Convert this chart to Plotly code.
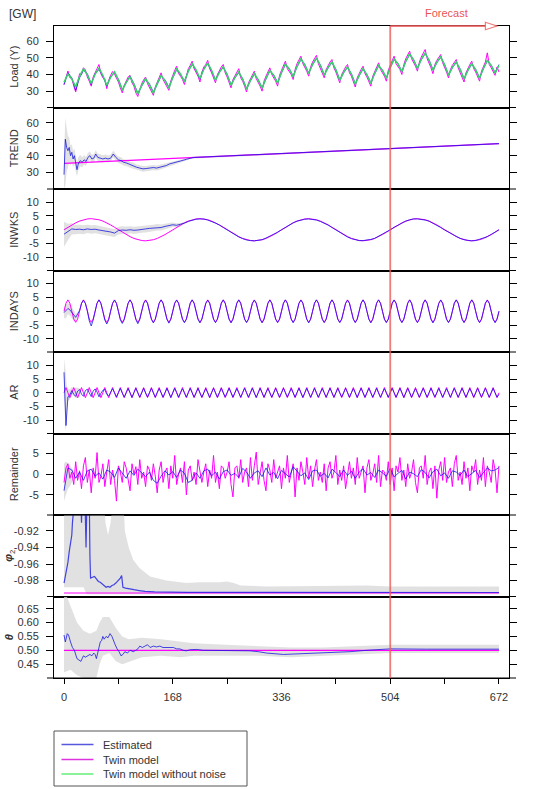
import plotly.graph_objects as go

# ---------------- DATA ----------------
# Panel 1: Load (Y), 6-hourly / 3-hourly samples
load_green = [35.3, 40.3, 37.3, 32.6, 38.9, 43.4, 39.8, 34.6, 40.1, 43.9,
              39.5, 33.5, 38.3, 41.6, 36.8, 30.5, 35.3, 38.6, 34.1, 28.2,
              33.5, 37.6, 33.8, 28.7, 34.7, 39.5, 36.3, 31.8, 38.3, 43.3,
              40.3, 35.6, 41.9, 46.4, 42.8, 37.6, 43.1, 46.9, 42.5, 36.5,
              41.3, 44.6, 39.8, 33.5, 38.3, 41.6, 37.1, 31.2, 36.5, 40.6,
              36.8, 31.7, 37.7, 42.5, 39.4, 34.8, 41.3, 46.3, 43.3, 38.6,
              44.9, 49.4, 45.8, 40.6, 46.1, 49.9, 45.5, 39.5, 44.3, 47.6,
              42.8, 36.5, 41.3, 44.6, 40.1, 34.2, 39.5, 43.6, 39.8, 34.7,
              40.7, 45.5, 42.4, 37.8, 44.3, 49.3, 46.3, 41.6, 47.9, 52.4,
              48.8, 43.6, 49.1, 52.9, 48.5, 42.5, 47.3, 50.6, 45.8, 39.5,
              44.3, 47.6, 43.1, 37.2, 42.5, 46.6, 42.8, 37.7, 43.7, 48.5,
              45.4, 40.8, 45.5]
load_est = [34.0, 41.0, 38.0, 30.5, 38.0, 42.5, 40.5, 34.0, 40.5, 43.0,
            39.0, 33.0, 38.8, 41.0, 37.2, 31.0, 35.0, 39.0, 34.5, 28.8,
            33.0, 37.0, 34.3, 29.5, 34.0, 39.0, 36.8, 32.5, 38.0, 43.0,
            40.0, 36.0, 42.2, 46.0, 42.5, 37.2, 43.5, 46.5, 42.0, 36.8,
            41.5, 44.2, 40.2, 33.8, 38.0, 41.2, 37.5, 31.5, 36.2, 40.2,
            37.0, 32.0, 37.3, 42.2, 39.7, 35.2, 41.0, 46.0, 43.5, 38.9,
            44.6, 49.0, 46.0, 40.9, 45.8, 49.5, 45.8, 39.8, 44.0, 47.2,
            43.0, 36.8, 41.0, 44.3, 40.4, 34.5, 39.2, 43.3, 40.0, 35.0,
            40.4, 45.2, 42.6, 38.0, 44.1, 49.0, 46.5, 41.8, 47.7, 52.0,
            49.0, 43.8, 48.9, 52.5, 48.7, 42.8, 47.1, 50.3, 46.0, 39.8,
            44.1, 47.3, 43.3, 37.5, 42.3, 46.3, 43.0, 38.0, 43.5, 48.2,
            45.6, 41.0, 46.0]
load_twin = [33.9, 38.8, 42.1, 38.1, 37.7, 33.2, 29.5, 35.0, 40.5, 40.2,
             44.0, 42.8, 38.5, 36.0, 33.0, 38.5, 41.5, 43.5, 46.0, 40.5,
             38.0, 37.5, 31.5, 36.5, 39.5, 41.8, 40.2, 38.0, 35.5, 32.0,
             29.0, 33.5, 36.0, 38.5, 39.5, 35.0, 33.0, 29.0, 26.8, 31.5,
             34.5, 36.8, 38.5, 34.5, 32.0, 30.0, 27.5, 32.5, 35.5, 38.5,
             41.0, 37.0, 35.0, 33.0, 30.5, 36.2, 39.8, 42.5, 45.0, 40.5,
             39.0, 37.0, 34.0, 39.5, 43.5, 45.5, 48.0, 43.5, 41.5, 39.0,
             35.5, 41.5, 44.5, 46.0, 48.5, 43.5, 41.0, 38.0, 35.0, 40.0,
             42.5, 44.5, 46.0, 41.0, 38.5, 35.0, 32.0, 37.0, 39.5, 41.5,
             43.5, 38.0, 36.0, 33.0, 29.5, 35.0, 37.5, 40.0, 42.0, 37.5,
             35.5, 33.0, 30.0, 36.0, 39.0, 41.5, 44.0, 40.0, 38.0, 36.0,
             33.0, 39.5, 42.5, 45.5, 48.0, 43.5, 42.0, 40.0, 37.0, 43.0,
             46.5, 48.5, 51.0, 46.5, 44.5, 42.0, 39.0, 44.5, 47.5, 49.5,
             51.5, 46.5, 44.0, 41.0, 38.0, 43.0, 45.5, 47.5, 49.0, 44.0,
             41.5, 38.5, 35.0, 40.0, 42.5, 44.5, 46.0, 41.0, 39.0, 36.0,
             32.5, 38.0, 41.0, 43.0, 45.0, 40.5, 38.5, 36.0, 33.0, 39.0,
             42.0, 44.5, 47.0, 43.0, 41.0, 39.0, 36.0, 42.5, 45.5, 48.5,
             51.0, 46.5, 45.0, 43.0, 40.0, 46.0, 49.5, 51.5, 54.0, 49.5,
             47.5, 45.0, 42.0, 47.5, 50.5, 52.5, 55.0, 49.5, 47.0, 44.0,
             40.5, 46.0, 48.5, 50.5, 52.0, 47.0, 44.5, 41.5, 38.0, 43.0,
             45.5, 47.5, 49.0, 44.0, 41.5, 39.0, 35.5, 41.0, 44.0, 46.0,
             48.0, 43.5, 41.5, 39.0, 36.0, 42.0, 45.0, 47.5, 53.0, 46.0,
             44.0, 42.0, 39.5, 44.5, 41.5]

# Panel 2: TREND
trend_twin_t = [0, 168, 336, 504, 672]
trend_twin = [35.3, 38.3, 41.3, 44.3, 47.3]
trend_est_t = [0, 2, 4, 6, 8, 10, 12, 14, 16, 18, 20, 22, 25, 28, 31, 34, 37, 40, 43, 46,
               49, 52, 56, 60, 64, 68, 72, 76, 80, 84, 88, 92, 97, 102, 107, 112, 117, 122,
               127, 132, 138, 143, 148, 153, 158, 163, 169, 174, 179, 184, 189, 195, 200,
               336, 504, 672]
trend_est = [28.5, 50, 45, 43, 45, 40, 42, 38, 40, 35, 31.5, 35, 37, 36, 37.5, 36.5, 39, 40, 38, 38.5,
             41, 39, 38.5, 38, 38.5, 38, 38.5, 41, 39, 37.5, 37, 36, 35.5, 34.5, 34, 33, 32.5, 32,
             32.2, 32.5, 32.8, 32.5, 33, 33.5, 34, 35, 35.5, 36, 36.5, 37.2, 37.8, 38.6, 38.9,
             41.3, 44.3, 47.3]
trend_up = [40, 63, 57, 52, 51, 46, 47, 43, 44.5, 39.5, 36, 39, 40.5, 39, 40.3, 39.2, 41.6, 42.5, 40.5, 41,
            43.3, 41.3, 40.8, 40.2, 40.7, 40.1, 40.6, 43, 41, 39.5, 39, 37.9, 37.4, 36.3, 35.8, 34.7, 34.2, 33.7,
            33.8, 34.1, 34.4, 34.0, 34.5, 35.0, 35.4, 36.3, 36.7, 37.1, 37.5, 38.0, 38.5, 39.1, 39.3,
            41.6, 44.6, 47.6]
trend_lo = [20, 22, 30, 33, 36, 34, 36, 33, 35.5, 30.5, 27.5, 31, 33.5, 33, 34.7, 33.8, 36.4, 37.5, 35.5, 36,
            38.7, 36.7, 36.2, 35.8, 36.3, 35.9, 36.4, 39, 37, 35.5, 35, 34.1, 33.6, 32.7, 32.2, 31.3, 30.8, 30.3,
            30.6, 30.9, 31.2, 31.0, 31.5, 32.0, 32.6, 33.7, 34.3, 34.9, 35.5, 36.4, 37.1, 38.1, 38.5,
            41.0, 44.0, 47.0]

# Panel 3: INWKS (6-hourly)
inwks_twin = [0.0, 0.89, 1.74, 2.49, 3.13, 3.6, 3.9, 4.0, 3.9, 3.6, 3.13, 2.49, 1.74, 0.89,
              0.0, -0.89, -1.74, -2.49, -3.13, -3.6, -3.9, -4.0, -3.9, -3.6, -3.13, -2.49, -1.74, -0.89,
              0.0, 0.89, 1.74, 2.49, 3.13, 3.6, 3.9, 4.0, 3.9, 3.6, 3.13, 2.49, 1.74, 0.89,
              0.0, -0.89, -1.74, -2.49, -3.13, -3.6, -3.9, -4.0, -3.9, -3.6, -3.13, -2.49, -1.74, -0.89,
              0.0, 0.89, 1.74, 2.49, 3.13, 3.6, 3.9, 4.0, 3.9, 3.6, 3.13, 2.49, 1.74, 0.89,
              0.0, -0.89, -1.74, -2.49, -3.13, -3.6, -3.9, -4.0, -3.9, -3.6, -3.13, -2.49, -1.74, -0.89,
              0.0, 0.89, 1.74, 2.49, 3.13, 3.6, 3.9, 4.0, 3.9, 3.6, 3.13, 2.49, 1.74, 0.89,
              0.0, -0.89, -1.74, -2.49, -3.13, -3.6, -3.9, -4.0, -3.9, -3.6, -3.13, -2.49, -1.74, -0.89,
              0.0]
inwks_est = [-1.6, -0.8, 0.3, 0.1, 0.2, 0.0, 0.3, 0.1, 0.2, -0.1, -0.3, -0.5, -0.8, -1.2, -0.3, -0.1,
             -0.2, 0.0, -0.2, -0.1, 0.2, 0.3, 0.5, 0.6, 0.9, 0.8, 1.2, 1.4, 1.8, 1.6, 1.9, 2.4, 3.0,
             3.5, 3.8, 3.9, 3.9, 3.5, 3.0, 2.4, 1.7, 0.8, -0.1, -0.9, -1.8, -2.6, -3.2, -3.7, -3.9,
             -4.0, -3.8, -3.6, -3.0, -2.4, -1.7, -0.9,
             0.0, 0.9, 1.8, 2.5, 3.1, 3.5, 3.8, 3.9, 3.8, 3.5, 3.0, 2.4, 1.7, 0.8,
             -0.1, -1.0, -1.8, -2.6, -3.2, -3.6, -3.9, -3.9, -3.8, -3.5, -3.1, -2.4, -1.7, -0.9,
             0.0, 0.9, 1.7, 2.5, 3.1, 3.6, 3.9, 3.9, 3.8, 3.5, 3.1, 2.4, 1.7, 0.8,
             -0.1, -0.9, -1.8, -2.5, -3.1, -3.6, -3.9, -4.0, -3.9, -3.5, -3.1, -2.5, -1.7, -0.9,
             0.0]
inwks_band_up = [2.9, 2.2, 2.3, 1.8, 1.8, 1.6, 1.8, 1.6, 1.7, 1.4, 1.2, 1.0, 0.7, 0.2, 1.1, 1.3, 1.2,
                 1.3, 1.1, 1.2, 1.5, 1.6, 1.7, 1.8, 2.1, 1.9, 2.2, 2.3, 2.6, 2.3, 2.4, 2.8, 3.3]
inwks_band_lo = [-6.1, -3.8, -1.7, -1.6, -1.4, -1.6, -1.2, -1.4, -1.3, -1.6, -1.8, -2.0, -2.3, -2.6, -1.7,
                 -1.5, -1.6, -1.3, -1.5, -1.4, -1.1, -1.0, -0.7, -0.6, -0.3, -0.3, 0.2, 0.5, 1.0, 0.9,
                 1.4, 2.0, 2.7]

# Panel 4: INDAYS (3-hourly), one row per day
indays_twin = [0.0, 2.9, 4.1, 2.9, 0.0, -2.8, -4.0, -2.8,
               0.0, 2.9, 4.1, 2.9, 0.0, -2.8, -4.0, -2.8,
               0.0, 2.9, 4.1, 2.9, 0.0, -2.8, -4.0, -2.8,
               0.0, 2.9, 4.1, 2.9, 0.0, -2.8, -4.0, -2.8,
               0.0, 2.9, 4.1, 2.9, 0.0, -2.8, -4.0, -2.8,
               0.0, 2.9, 4.1, 2.9, 0.0, -2.8, -4.0, -2.8,
               0.0, 2.9, 4.1, 2.9, 0.0, -2.8, -4.0, -2.8,
               0.0, 2.9, 4.1, 2.9, 0.0, -2.8, -4.0, -2.8,
               0.0, 2.9, 4.1, 2.9, 0.0, -2.8, -4.0, -2.8,
               0.0, 2.9, 4.1, 2.9, 0.0, -2.8, -4.0, -2.8,
               0.0, 2.9, 4.1, 2.9, 0.0, -2.8, -4.0, -2.8,
               0.0, 2.9, 4.1, 2.9, 0.0, -2.8, -4.0, -2.8,
               0.0, 2.9, 4.1, 2.9, 0.0, -2.8, -4.0, -2.8,
               0.0, 2.9, 4.1, 2.9, 0.0, -2.8, -4.0, -2.8,
               0.0, 2.9, 4.1, 2.9, 0.0, -2.8, -4.0, -2.8,
               0.0, 2.9, 4.1, 2.9, 0.0, -2.8, -4.0, -2.8,
               0.0, 2.9, 4.1, 2.9, 0.0, -2.8, -4.0, -2.8,
               0.0, 2.9, 4.1, 2.9, 0.0, -2.8, -4.0, -2.8,
               0.0, 2.9, 4.1, 2.9, 0.0, -2.8, -4.0, -2.8,
               0.0, 2.9, 4.1, 2.9, 0.0, -2.8, -4.0, -2.8,
               0.0, 2.9, 4.1, 2.9, 0.0, -2.8, -4.0, -2.8,
               0.0, 2.9, 4.1, 2.9, 0.0, -2.8, -4.0, -2.8,
               0.0, 2.9, 4.1, 2.9, 0.0, -2.8, -4.0, -2.8,
               0.0, 2.9, 4.1, 2.9, 0.0, -2.8, -4.0, -2.8,
               0.0, 2.9, 4.1, 2.9, 0.0, -2.8, -4.0, -2.8,
               0.0, 2.9, 4.1, 2.9, 0.0, -2.8, -4.0, -2.8,
               0.0, 2.9, 4.1, 2.9, 0.0, -2.8, -4.0, -2.8,
               0.0, 2.9, 4.1, 2.9, 0.0, -2.8, -4.0, -2.8,
               0.0]
indays_est = [-0.5, 0.3, 1.0, 0.5, -0.5, -1.5, -2.2, -1.0,
              0.2, 2.8, 4.0, 2.8, 0.3, -3.5, -5.3, -3.2,
              0.2, 2.9, 4.1, 2.8, 0.0, -3.2, -4.6, -3.1,
              0.1, 2.8, 4.0, 2.8, 0.0, -3.1, -4.4, -3.0,
              0.0, 2.9, 4.1, 2.9, 0.0, -3.0, -4.5, -3.0,
              0.0, 2.8, 4.0, 2.9, -0.1, -2.9, -4.2, -2.9,
              0.0, 2.9, 4.1, 2.9, 0.0, -2.9, -4.3, -2.9,
              0.0, 2.9, 4.0, 2.9, 0.0, -2.9, -4.1, -2.9,
              0.0, 2.9, 4.1, 2.9, 0.0, -2.9, -4.2, -2.9,
              0.0, 2.8, 4.0, 2.9, 0.0, -2.9, -4.1, -2.9,
              0.0, 2.9, 4.1, 2.9, 0.0, -2.9, -4.2, -2.9,
              0.0, 2.9, 4.1, 2.9, 0.0, -2.9, -4.1, -2.9,
              0.0, 2.8, 4.0, 2.9, 0.0, -2.9, -4.2, -2.9,
              0.0, 2.9, 4.1, 2.9, 0.0, -2.9, -4.1, -2.9,
              0.0, 2.9, 4.1, 2.9, 0.0, -2.9, -4.1, -2.9,
              0.0, 2.9, 4.0, 2.9, 0.0, -2.9, -4.2, -2.9,
              0.0, 2.9, 4.1, 2.9, 0.0, -2.9, -4.1, -2.9,
              0.0, 2.9, 4.1, 2.9, 0.0, -2.9, -4.1, -2.9,
              0.0, 2.8, 4.0, 2.9, 0.0, -2.9, -4.1, -2.9,
              0.0, 2.9, 4.1, 2.9, 0.0, -2.9, -4.2, -2.9,
              0.0, 2.9, 4.1, 2.9, 0.0, -2.9, -4.1, -2.9,
              0.0, 2.9, 4.0, 2.9, 0.0, -2.9, -4.1, -2.9,
              0.0, 2.9, 4.1, 2.9, 0.0, -2.9, -4.1, -2.9,
              0.0, 2.9, 4.1, 2.9, 0.0, -2.9, -4.2, -2.9,
              0.0, 2.8, 4.0, 2.9, 0.0, -2.9, -4.1, -2.9,
              0.0, 2.9, 4.1, 2.9, 0.0, -2.9, -4.1, -2.9,
              0.0, 2.9, 4.1, 2.9, 0.0, -2.9, -4.1, -2.9,
              0.0, 2.9, 4.0, 2.9, 0.0, -2.9, -4.1, -2.9,
              0.0]
indays_band_t = [0, 3, 6, 9, 12, 15, 18, 21, 24]
indays_band_up = [1.5, 2.5, 3.0, 2.5, 1.5, 0.5, -1.0, -0.2, 0.6]
indays_band_lo = [-2.5, -2.5, -1.0, -1.5, -2.5, -3.5, -3.4, -2.0, -0.2]

# Panel 5: AR (3-hourly)
ar_twin = [0.0, 1.9, 0.0, -1.8, 0.0, 1.9, 0.0, -1.8, 0.0, 1.9, 0.0, -1.8, 0.0, 1.9, 0.0, -1.8,
           0.0, 1.9, 0.0, -1.8, 0.0, 1.9, 0.0, -1.8, 0.0, 1.9, 0.0, -1.8, 0.0, 1.9, 0.0, -1.8,
           0.0, 1.9, 0.0, -1.8, 0.0, 1.9, 0.0, -1.8, 0.0, 1.9, 0.0, -1.8, 0.0, 1.9, 0.0, -1.8,
           0.0, 1.9, 0.0, -1.8, 0.0, 1.9, 0.0, -1.8, 0.0, 1.9, 0.0, -1.8, 0.0, 1.9, 0.0, -1.8,
           0.0, 1.9, 0.0, -1.8, 0.0, 1.9, 0.0, -1.8, 0.0, 1.9, 0.0, -1.8, 0.0, 1.9, 0.0, -1.8,
           0.0, 1.9, 0.0, -1.8, 0.0, 1.9, 0.0, -1.8, 0.0, 1.9, 0.0, -1.8, 0.0, 1.9, 0.0, -1.8,
           0.0, 1.9, 0.0, -1.8, 0.0, 1.9, 0.0, -1.8, 0.0, 1.9, 0.0, -1.8, 0.0, 1.9, 0.0, -1.8,
           0.0, 1.9, 0.0, -1.8, 0.0, 1.9, 0.0, -1.8, 0.0, 1.9, 0.0, -1.8, 0.0, 1.9, 0.0, -1.8,
           0.0, 1.9, 0.0, -1.8, 0.0, 1.9, 0.0, -1.8, 0.0, 1.9, 0.0, -1.8, 0.0, 1.9, 0.0, -1.8,
           0.0, 1.9, 0.0, -1.8, 0.0, 1.9, 0.0, -1.8, 0.0, 1.9, 0.0, -1.8, 0.0, 1.9, 0.0, -1.8,
           0.0, 1.9, 0.0, -1.8, 0.0, 1.9, 0.0, -1.8, 0.0, 1.9, 0.0, -1.8, 0.0, 1.9, 0.0, -1.8,
           0.0, 1.9, 0.0, -1.8, 0.0, 1.9, 0.0, -1.8, 0.0, 1.9, 0.0, -1.8, 0.0, 1.9, 0.0, -1.8,
           0.0, 1.9, 0.0, -1.8, 0.0, 1.9, 0.0, -1.8, 0.0, 1.9, 0.0, -1.8, 0.0, 1.9, 0.0, -1.8,
           0.0, 1.9, 0.0, -1.8, 0.0, 1.9, 0.0, -1.8, 0.0, 1.9, 0.0, -1.8, 0.0, 1.9, 0.0, -1.8,
           0.0]
ar_est = [7.5, -12.0, -1.5, -0.8, 0.8, -0.6, -1.3, 0.6, 1.2, -0.5, -1.3, 0.8, 1.3, -0.3, -1.4, 0.6,
          1.4, 0.3, -1.5, -0.2, 0.9, 1.2, -0.6, -1.2, 0.2, 1.5, 0.0, -1.5,
          0.1, 1.6, -0.1, -1.6, 0.0, 1.5, 0.0, -1.7, 0.1, 1.6, 0.0, -1.6, 0.0, 1.6, -0.1, -1.5,
          0.0, 1.6, 0.0, -1.6, 0.1, 1.5, 0.0, -1.6, 0.0, 1.6, 0.0, -1.7, 0.0, 1.6, 0.1, -1.6,
          0.0, 1.5, 0.0, -1.6, 0.1, 1.6, 0.0, -1.6, 0.0, 1.6, -0.1, -1.6, 0.0, 1.5, 0.0, -1.7,
          0.1, 1.6, 0.0, -1.6, 0.0, 1.6, 0.0, -1.5, 0.0, 1.6, 0.1, -1.6, 0.0, 1.5, 0.0, -1.6,
          0.1, 1.6, 0.0, -1.6, 0.0, 1.6, -0.1, -1.7, 0.0, 1.6, 0.0, -1.6, 0.1, 1.5, 0.0, -1.6,
          0.0, 1.6, 0.0, -1.6, 0.0, 1.6, 0.1, -1.5, 0.0, 1.5, 0.0, -1.6, 0.1, 1.6, 0.0, -1.7,
          0.0, 1.6, 0.0, -1.6, 0.0, 1.6, -0.1, -1.6, 0.0, 1.5, 0.0, -1.6, 0.1, 1.6, 0.0, -1.6,
          0.0, 1.6, 0.0, -1.5, 0.0, 1.6, 0.1, -1.6, 0.0, 1.5, 0.0, -1.7, 0.1, 1.6, 0.0, -1.6,
          0.0, 1.6, 0.0, -1.6, 0.0, 1.6, -0.1, -1.6, 0.0, 1.5, 0.0, -1.6, 0.1, 1.6, 0.0, -1.6,
          0.0, 1.6, 0.0, -1.7, 0.0, 1.6, 0.1, -1.6, 0.0, 1.5, 0.0, -1.6, 0.1, 1.6, 0.0, -1.6,
          0.0, 1.6, 0.0, -1.5, 0.0, 1.6, 0.0, -1.6, 0.0, 1.5, 0.0, -1.6, 0.1, 1.6, 0.0, -1.6,
          0.0, 1.6, 0.0, -1.6, 0.0, 1.5, 0.1, -1.6, 0.0, 1.6, 0.0, -1.5, 0.0, 1.6, 0.0, -1.6,
          0.0, 1.6, 0.0, -1.6,
          -0.6]
ar_band_t = [0, 1, 2, 3, 4, 6, 9, 12, 15, 18, 21, 24]
ar_band_up = [8.5, 12.5, 9.0, 4.0, 3.0, 1.5, 1.2, 2.2, 1.5, 2.0, 1.8, 1.6]
ar_band_lo = [-2.0, -6.0, -13.0, -13.5, -8.0, -3.0, -2.5, -0.5, -1.3, -2.0, -2.0, -1.8]

# Panel 6: Remainder
rem_twin = [-2.0, 1.5, 2.5, -1.0, 0.5, -2.5, 3.0, -1.5, 0.8, -3.5, 2.0, 4.0, -2.0, 1.0, -4.5,
            1.5, -1.0, 5.2, -2.0, -0.5, 2.5, -3.0, 0.5, 3.5, -2.5, 1.0, -1.5, -6.5, 2.0, 0.5,
            -2.0, 3.0, 1.5, -1.0, -4.0, 2.5, 0.0, 1.8, -2.5, 3.5, -1.0, 0.5, -3.0, 2.0, 1.0,
            -1.5, 2.5, -0.5, -4.5, 1.0, 3.0, -2.0, 0.5, 1.5, -3.5, 2.0, -1.0, 4.5, -2.5, 0.0,
            1.5, -2.0, 3.0, -5.0, 1.0, 2.0, -1.5, 0.5, -2.5, 3.5, 1.0, -2.0, 0.5, 2.5, -3.0,
            1.0, -1.0, 4.5, -2.0, 0.5, -3.5, 2.0, 1.5, -1.0, 0.5, 3.0, -2.5, -5.5, 1.5, 2.0,
            -1.0, 3.5, -2.0, 0.5, 1.5, -3.0, 4.0, -1.5, 2.0, 5.3, -2.5, 0.5, 3.0, -1.5, -4.0,
            2.5, 1.0, -2.0, 3.5, -1.0, 0.5, 2.0, -3.5, 1.5, -1.0, 4.5, -2.0, 0.0, 2.5, -5.5,
            1.5, -1.5, 3.0, 0.5, -2.5, 4.0, -1.0, 2.0, -3.0, 1.0, 3.5, -1.5, 0.5, -2.0, 2.5,
            -4.0, 1.5, 3.0, -1.0, 0.5, 4.5, -2.5, 1.0, -1.5, 2.0, -3.5, 0.5, 3.0, -1.0, 1.5,
            -2.5, 4.0, -1.0, 0.5, 2.0, -4.5, 1.5, 3.5, -1.5, 0.0, 2.5, -2.0, 4.5, -3.0, 1.0,
            0.5, -1.5, 3.0, -2.5, 1.5, -4.0, 2.0, 0.5, 4.0, -1.5, 1.0, -3.0, 2.5, -1.0, 0.5,
            3.5, -2.0, -4.5, 1.5, 2.0, -1.0, 4.5, -2.5, 0.5, 1.5, -3.5, 2.0, -5.8, 1.0, 3.0,
            -1.5, 4.0, -2.0, 0.5, 1.5, -3.0, 2.5, 4.5, -1.5, 0.5, -2.5, 3.0, -1.0, 1.5, -4.0,
            2.0, 0.5, 3.5, -2.5, 1.0, -1.5, 4.0, -3.0, 2.0, 0.5, -2.0, 3.5, 1.0, -4.5, 2.0]
rem_est = [-4.0, 1.5, 1.0, -1.0, 0.5, -1.5, 0.8, 1.2, -0.5, 0.3,
           -1.2, 1.0, 0.5, -0.8, 1.5, 0.2, -1.0, 0.8, -0.3, 1.2,
           0.4, -0.6, 0.5, -1.5, -2.2, -0.5, 0.8, -0.2, 0.6, -0.8,
           1.0, 0.2, -2.0, -1.5, 0.3, -1.0, 0.8, 1.2, -0.4, 0.5,
           -1.2, 0.6, 1.0, -0.3, 0.2, -0.8, 1.4, 0.5, -1.0, 0.3,
           0.8, -0.6, 1.5, -0.2, 0.4, -1.1, 0.9, 0.2, -0.7, 1.8,
           0.6, -0.4, 0.3, -1.3, 0.8, 1.0, -0.5, 0.2, -0.9, 1.2,
           0.4, -0.6, 1.0, -0.3, 0.7, -1.0, 0.5, 1.3, -0.2, 0.4,
           -0.8, 1.0, 0.3, -0.5, 1.4, -0.7, 0.2, 0.9, -1.2, 0.5,
           0.1, -0.6, 1.1, 0.4, -0.9, 0.6, 1.2, -0.4, 0.3, -1.0,
           0.8, 0.5, -0.3, 1.0, -0.6, 0.2, 0.9, -0.8, 0.4, 1.5,
           0.8, 1.0, 1.6]
rem_band_t = [0, 2, 4, 6, 9, 12, 15]
rem_band_up = [2.5, 3.0, 3.0, 2.5, 2.0, 1.5, 1.0]
rem_band_lo = [-6.5, -6.0, -4.5, -3.5, -3.0, -2.0, -1.0]

# Panel 7: phi_2
phi2_twin_t = [0, 672]
phi2_twin = [-0.995, -0.995]
phi2_t = [0, 2, 4, 6, 8, 10, 12, 13, 14, 20, 26, 27, 28, 32, 33, 34, 35, 36, 39, 40,
          41, 44, 47, 50, 53, 56, 59, 62, 65, 68, 71, 74, 77, 80, 84, 87, 89, 90, 91, 95,
          100, 108, 116, 125, 140, 160, 190, 250, 336, 420, 504, 672]
phi2_est = [-0.983, -0.975, -0.965, -0.958, -0.945, -0.935, -0.925, -0.91, -0.89, -0.85,
            -0.88, -0.91, -0.88, -0.87, -0.935, -0.94, -0.90, -0.88, -0.88, -0.95,
            -0.977, -0.976, -0.975, -0.978, -0.981, -0.982, -0.984, -0.985, -0.988, -0.987,
            -0.988, -0.986, -0.985, -0.983, -0.98, -0.977, -0.974, -0.98, -0.988, -0.989,
            -0.990, -0.991, -0.992, -0.993, -0.9935, -0.994, -0.9942, -0.9943, -0.9944, -0.9944,
            -0.9944, -0.9944]
phi2_band_t = [0, 5, 10, 20, 30, 35, 40, 50, 60, 64, 68, 72, 76, 80, 85, 90, 94, 100, 107, 117,
               133, 158, 189, 210, 240, 252, 262, 273, 313, 416, 468, 504, 672]
phi2_band_up = [-0.85, -0.85, -0.85, -0.85, -0.85, -0.85, -0.85, -0.85, -0.85, -0.91, -0.925, -0.91,
                -0.85, -0.85, -0.85, -0.85, -0.92, -0.94, -0.955, -0.965, -0.975, -0.98, -0.983,
                -0.982, -0.982, -0.981, -0.983, -0.986, -0.987, -0.986, -0.986, -0.987, -0.987]
phi2_band_lo = [-0.988, -0.988, -0.988, -0.988, -0.988, -0.9965, -0.9965, -0.9965, -0.9965, -0.9965,
                -0.9965, -0.9965, -0.9965, -0.9965, -0.9965, -0.9965, -0.9965, -0.9965, -0.9965,
                -0.9965, -0.9965, -0.9965, -0.9965, -0.9965, -0.9965, -0.9965, -0.9965, -0.9965,
                -0.9965, -0.9965, -0.9965, -0.9965, -0.9965]

# Panel 8: theta
theta_twin_t = [0, 672]
theta_twin = [0.50, 0.50]
theta_t = [0, 2, 5, 7, 10, 13, 16, 18, 20, 23, 26, 28, 30, 33, 36, 40, 43, 46, 48, 50,
           52, 54, 56, 58, 60, 62, 65, 68, 71, 74, 77, 79, 82, 85, 88, 91, 94, 98, 102, 107,
           111, 114, 117, 121, 125, 129, 133, 138, 143, 148, 153, 158, 163, 169, 174, 179,
           184, 189, 195, 205, 215, 236, 261, 287, 300, 313, 339, 365, 390, 416, 442, 468,
           493, 504, 560, 672]
theta_est = [0.555, 0.53, 0.56, 0.555, 0.53, 0.51, 0.50, 0.48, 0.47, 0.465, 0.46, 0.47, 0.48,
             0.475, 0.48, 0.485, 0.48, 0.49, 0.485, 0.47, 0.49, 0.51, 0.53, 0.535, 0.55, 0.54,
             0.55, 0.545, 0.56, 0.55, 0.53, 0.52, 0.505, 0.495, 0.48, 0.485, 0.495, 0.49, 0.5,
             0.495, 0.5, 0.505, 0.515, 0.51, 0.515, 0.52, 0.51, 0.515, 0.512, 0.515, 0.51, 0.51,
             0.512, 0.51, 0.505, 0.505, 0.50, 0.498, 0.502, 0.503, 0.50, 0.50, 0.50, 0.498,
             0.495, 0.49, 0.485, 0.487, 0.49, 0.492, 0.495, 0.50, 0.503, 0.505, 0.504, 0.504]
theta_band_t = [0, 10, 20, 30, 40, 50, 55, 60, 70, 80, 90, 100, 120, 150, 180, 200, 250, 300,
                350, 400, 450, 504, 672]
theta_band_up = [0.72, 0.66, 0.60, 0.57, 0.56, 0.57, 0.60, 0.62, 0.62, 0.58, 0.55, 0.54, 0.545,
                 0.54, 0.53, 0.525, 0.52, 0.515, 0.51, 0.51, 0.515, 0.52, 0.52]
theta_band_lo = [0.42, 0.43, 0.41, 0.40, 0.40, 0.40, 0.45, 0.48, 0.49, 0.46, 0.45, 0.46, 0.475,
                 0.48, 0.475, 0.48, 0.48, 0.48, 0.475, 0.48, 0.485, 0.49, 0.49]

panel_titles = ["Load (Y)", "TREND", "INWKS", "INDAYS", "AR", "Remainder",
                "<i><b>φ</b></i><sub>2</sub>", "<i><b>θ</b></i>"]
title_x_px = [14, 14, 14, 14, 14, 14, 9, 9]
y_ranges = [[20.2, 69.1], [19.8, 69.2], [-14.7, 14.7], [-14.7, 14.7], [-14.9, 14.9],
            [-9.85, 9.8], [-0.9992, -0.9008], [0.40, 0.694]]
y_ticks = [[30, 40, 50, 60], [30, 40, 50, 60], [-10, -5, 0, 5, 10], [-10, -5, 0, 5, 10],
           [-10, -5, 0, 5, 10], [-5, 0, 5], [-0.98, -0.96, -0.94, -0.92],
           [0.45, 0.50, 0.55, 0.60, 0.65]]
y_ticktext = [["30", "40", "50", "60"], ["30", "40", "50", "60"],
              ["-10", "-5", "0", "5", "10"], ["-10", "-5", "0", "5", "10"],
              ["-10", "-5", "0", "5", "10"], ["-5", "0", "5"],
              ["-0.98", "-0.96", "-0.94", "-0.92"], ["0.45", "0.50", "0.55", "0.60", "0.65"]]
x_label_ticks = [0, 168, 336, 504, 672]
x_minor_step = 84
forecast_start = 504
legend_labels = ["Estimated", "Twin model", "Twin model without noise"]

# ---------------- CHECKS ----------------
for name, arr in (("load_green", load_green), ("load_est", load_est), ("inwks_twin", inwks_twin),
                  ("inwks_est", inwks_est), ("rem_est", rem_est)):
    assert len(arr) == 113, (name, len(arr))
for name, arr in (("load_twin", load_twin), ("ar_twin", ar_twin), ("ar_est", ar_est),
                  ("rem_twin", rem_twin), ("indays_twin", indays_twin),
                  ("indays_est", indays_est)):
    assert len(arr) == 225, (name, len(arr))
assert len(trend_est_t) == len(trend_est) == len(trend_up) == len(trend_lo)
assert len(phi2_t) == len(phi2_est)
assert len(phi2_band_t) == len(phi2_band_up) == len(phi2_band_lo)
assert len(theta_t) == len(theta_est)
assert len(theta_band_t) == len(theta_band_up) == len(theta_band_lo)

T6 = [6 * i for i in range(113)]
T3 = [3 * i for i in range(225)]

# ---------------- STYLE ----------------
C_EST = "rgba(20,20,225,0.78)"
C_TWIN = "#ff00ff"
C_GREEN = "#3ccf6e"
C_BAND = "rgba(215,215,215,0.75)"
C_RED = "rgba(238,90,90,0.8)"
FONT = "Liberation Sans, Arial, sans-serif"

fig = go.Figure()
N = 8


def axn(i):
    return "" if i == 0 else str(i + 1)


def add_line(i, x, y, color, width=1.0):
    fig.add_trace(go.Scatter(x=x, y=y, mode="lines", line=dict(color=color, width=width),
                             xaxis="x" + axn(i), yaxis="y" + axn(i),
                             showlegend=False, hoverinfo="skip"))


def add_band(i, t, up, lo):
    fig.add_trace(go.Scatter(x=list(t) + list(t)[::-1], y=list(up) + list(lo)[::-1],
                             mode="lines", line=dict(width=0, color=C_BAND), fill="toself",
                             fillcolor=C_BAND, xaxis="x" + axn(i), yaxis="y" + axn(i),
                             showlegend=False, hoverinfo="skip"))


# Panel 1
add_line(0, T3, load_twin, C_TWIN, 1.0)
add_line(0, T6, load_est, C_EST, 1.0)
add_line(0, T6, load_green, C_GREEN, 1.5)
# Panel 2
add_band(1, trend_est_t, trend_up, trend_lo)
add_line(1, trend_twin_t, trend_twin, C_TWIN, 1.2)
add_line(1, trend_est_t, trend_est, C_EST, 1.0)
# Panel 3
add_band(2, T6[:len(inwks_band_up)], inwks_band_up, inwks_band_lo)
add_line(2, T6, inwks_twin, C_TWIN, 1.0)
add_line(2, T6, inwks_est, C_EST, 1.0)
# Panel 4
add_band(3, indays_band_t, indays_band_up, indays_band_lo)
add_line(3, T3, indays_twin, C_TWIN, 1.0)
add_line(3, T3, indays_est, C_EST, 1.0)
# Panel 5
add_band(4, ar_band_t, ar_band_up, ar_band_lo)
add_line(4, T3, ar_twin, C_TWIN, 1.0)
add_line(4, T3, ar_est, C_EST, 1.0)
# Panel 6
add_band(5, rem_band_t, rem_band_up, rem_band_lo)
add_line(5, T3, rem_twin, C_TWIN, 1.0)
add_line(5, T6, rem_est, C_EST, 1.0)
# Panel 7
add_band(6, phi2_band_t, phi2_band_up, phi2_band_lo)
add_line(6, phi2_twin_t, phi2_twin, C_TWIN, 1.2)
add_line(6, phi2_t, phi2_est, C_EST, 1.2)
# Panel 8
add_band(7, theta_band_t, theta_band_up, theta_band_lo)
add_line(7, theta_twin_t, theta_twin, C_TWIN, 1.2)
add_line(7, theta_t, theta_est, C_EST, 1.0)

layout = dict(width=534, height=789, margin=dict(l=54, r=25, t=26, b=111, pad=0),
              paper_bgcolor="white", plot_bgcolor="white", showlegend=False,
              font=dict(family=FONT, size=11, color="#333"))

for i in range(N):
    top = 1 - i / N
    bot = 1 - (i + 1) / N
    xa = dict(domain=[0, 1], range=[-15.5, 687.5], anchor="y" + axn(i), showgrid=False,
              zeroline=False, showline=True, linecolor="black", linewidth=1, mirror=True)
    if i > 0:
        xa["matches"] = "x"
    if i < N - 1:
        xa.update(ticks="", showticklabels=False)
    else:
        xa.update(ticks="outside", ticklen=5, tickcolor="black", tickwidth=1,
                  tickmode="array", tickvals=x_label_ticks,
                  minor=dict(tick0=0, dtick=x_minor_step, ticks="outside", ticklen=5,
                             tickcolor="black", tickwidth=1, showgrid=False),
                  tickfont=dict(family=FONT, size=11, color="#333"), ticklabelstandoff=4)
    ya = dict(domain=[bot, top], range=y_ranges[i], anchor="x" + axn(i), showgrid=False,
              zeroline=False, showline=True, linecolor="black", linewidth=1, mirror="ticks",
              ticks="outside", ticklen=7, tickcolor="black", tickwidth=1,
              tickvals=y_ticks[i], ticktext=y_ticktext[i],
              tickfont=dict(family=FONT, size=11, color="#333"), ticklabelstandoff=5)
    layout["xaxis" + axn(i)] = xa
    layout["yaxis" + axn(i)] = ya

fig.update_layout(**layout)

shapes = []
ext = 7 / 455
for k in range(N):
    yk = k / N
    shapes.append(dict(type="line", xref="paper", yref="paper", x0=-ext, x1=1 + ext,
                       y0=yk, y1=yk, line=dict(color="black", width=1)))
# forecast marker
shapes.append(dict(type="line", xref="x", yref="paper", x0=forecast_start, x1=forecast_start,
                   y0=0, y1=1, line=dict(color=C_RED, width=1.8)))
shapes.append(dict(type="line", xref="x", yref="paper", x0=forecast_start, x1=668,
                   y0=1, y1=1, line=dict(color=C_RED, width=1.8)))
shapes.append(dict(type="path", xref="x", yref="paper",
                   path="M 651,1.0058 L 669,1 L 651,0.9942 Z",
                   fillcolor="white", line=dict(color=C_RED, width=1.2)))
# legend box
lx0, lx1 = 0.0, 193 / 455
ly0, ly1 = (678 - 786) / 652, (678 - 731) / 652
shapes.append(dict(type="rect", xref="paper", yref="paper", x0=lx0, x1=lx1, y0=ly0, y1=ly1,
                   line=dict(color="#555", width=1), fillcolor="white"))
leg_y = [(678 - 744.5) / 652, (678 - 759.5) / 652, (678 - 774) / 652]
leg_c = ["rgba(70,70,215,0.9)", "#dd33dd", "#66ee77"]
for yy, cc in zip(leg_y, leg_c):
    shapes.append(dict(type="line", xref="paper", yref="paper", x0=7.5 / 455, x1=39.5 / 455,
                       y0=yy, y1=yy, line=dict(color=cc, width=1.3)))

annotations = []
for i in range(N):
    annotations.append(dict(text=panel_titles[i], xref="paper", yref="paper",
                            x=(title_x_px[i] - 54) / 455, y=1 - (i + 0.5) / N, textangle=-90,
                            showarrow=False, xanchor="center", yanchor="middle",
                            font=dict(family=FONT, size=11, color="#333")))
annotations.append(dict(text="[GW]", xref="paper", yref="paper", x=-47 / 455,
                        y=(678 - 14) / 652, showarrow=False, xanchor="left", yanchor="middle",
                        font=dict(family=FONT, size=12, color="#333")))
annotations.append(dict(text="Forecast", xref="x", yref="paper", x=591, y=(678 - 12.5) / 652,
                        showarrow=False, xanchor="center", yanchor="middle",
                        font=dict(family=FONT, size=11, color="rgba(230,60,60,0.9)")))
for yy, lab in zip(leg_y, legend_labels):
    annotations.append(dict(text=lab, xref="paper", yref="paper", x=47 / 455, y=yy,
                            showarrow=False, xanchor="left", yanchor="middle",
                            font=dict(family=FONT, size=11, color="#333")))

fig.update_layout(shapes=shapes, annotations=annotations)
fig.write_html("out.html")
